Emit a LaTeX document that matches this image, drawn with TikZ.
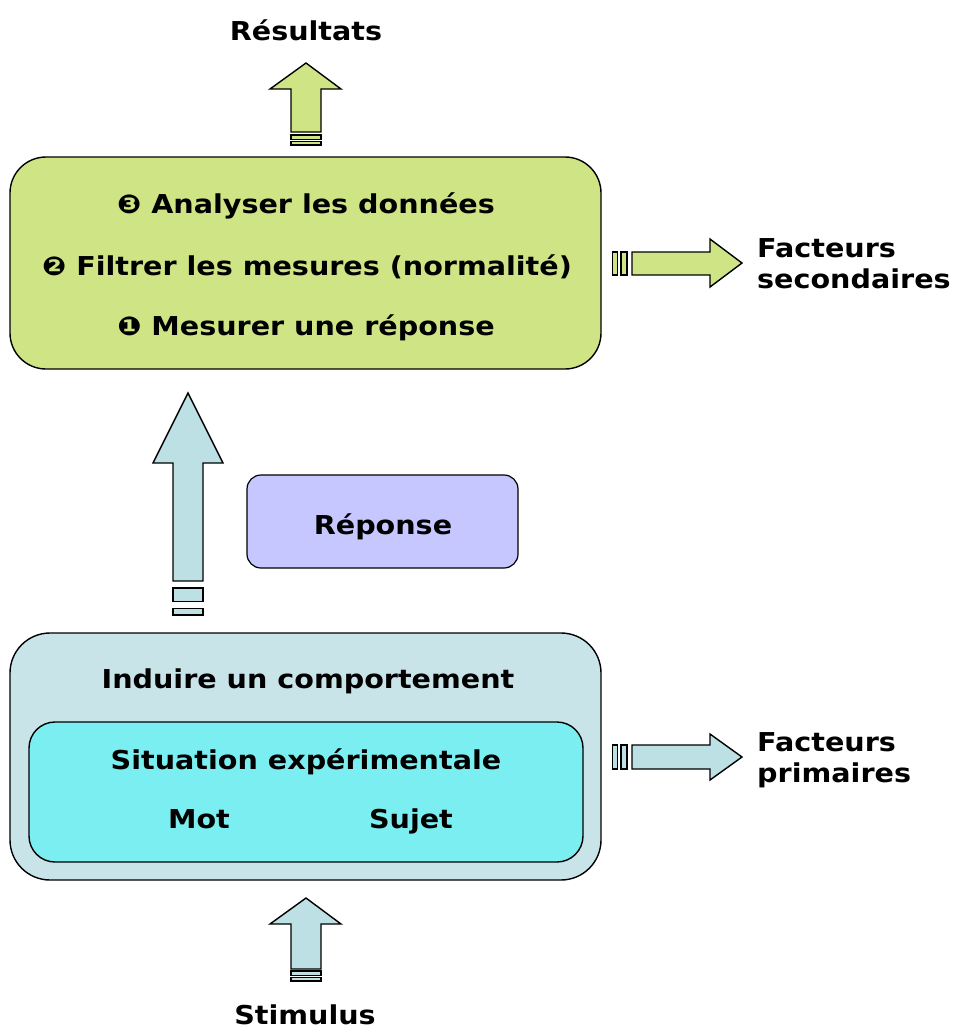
\documentclass[tikz,border=0pt]{standalone}
\usepackage{fontspec}
\setmainfont{DejaVu Sans}
\newfontfamily\labelfont{DejaVu Sans Bold}[FakeStretch=1.1]
\begin{document}
\begin{tikzpicture}[x=1pt,y=-1pt,
  txt/.style={font=\labelfont\fontsize{26}{31.5}\selectfont, inner sep=0pt, text=black, anchor=base},
  blk/.style={draw=black, line width=1.4pt, line join=miter},
  roundbox/.style={draw=black, line width=1.4pt}]
\definecolor{greenf}{RGB}{207,228,132}
\definecolor{bluef}{RGB}{188,224,227}
\definecolor{outerf}{RGB}{200,228,232}
\definecolor{innerf}{RGB}{122,238,240}
\definecolor{lavf}{RGB}{199,199,255}
\useasboundingbox (0,0) rectangle (954,1029);

% top green box
\draw[roundbox, fill=greenf, rounded corners=36pt] (10,157) rectangle (601,369);
\node[txt] (n3) at (306,213) {❸ Analyser les données};
\node[txt] (n2) at (307,275) {❷ Filtrer les mesures (normalité)};
\node[txt] (n1) at (306,335) {❶ Mesurer une réponse};

% Résultats arrow
\node[txt] (res) at (306,40) {Résultats};
\draw[blk, fill=greenf] (306,63) -- (341,89) -- (321,89) -- (321,132) -- (291,132) -- (291,89) -- (270,89) -- cycle;
\draw[blk, fill=greenf] (291,135) rectangle (321,139.5);
\draw[blk, fill=greenf] (291,141.5) rectangle (321,145);

% secondaires arrow
\draw[blk, fill=greenf] (612.5,252) rectangle (617.5,275);
\draw[blk, fill=greenf] (621,252) rectangle (627,275);
\draw[blk, fill=greenf] (632,252) -- (710,252) -- (710,239) -- (742,263) -- (710,287) -- (710,275) -- (632,275) -- cycle;
\node[txt, anchor=base west] (fs1) at (757,257) {Facteurs};
\node[txt, anchor=base west] (fs2) at (757,288.5) {secondaires};

% big blue up arrow
\draw[blk, fill=bluef] (188,393) -- (223,463) -- (203,463) -- (203,581) -- (173,581) -- (173,463) -- (153,463) -- cycle;
\draw[blk, fill=bluef] (173,588) rectangle (203,601.5);
\draw[blk, fill=bluef] (173,608.5) rectangle (203,615);

% Réponse box
\draw[roundbox, line width=1.2pt, fill=lavf, rounded corners=14pt] (247,475) rectangle (518,568);
\node[txt] (rep) at (383,534) {Réponse};

% bottom outer box
\draw[roundbox, fill=outerf, rounded corners=40pt] (10,633) rectangle (601,880);
\node[txt] (ind) at (308,688) {Induire un comportement};
\draw[roundbox, fill=innerf, rounded corners=26pt] (29,722) rectangle (583,862);
\node[txt] (sit) at (306,769) {Situation expérimentale};
\node[txt] (mot) at (199,828) {Mot};
\node[txt] (suj) at (411,828) {Sujet};

% primaires arrow
\draw[blk, fill=bluef] (612.5,745) rectangle (617.5,769);
\draw[blk, fill=bluef] (621,745) rectangle (627,769);
\draw[blk, fill=bluef] (632,745) -- (710,745) -- (710,734) -- (742,757) -- (710,780) -- (710,769) -- (632,769) -- cycle;
\node[txt, anchor=base west] (fp1) at (757,751) {Facteurs};
\node[txt, anchor=base west] (fp2) at (757,782.5) {primaires};

% Stimulus arrow
\draw[blk, fill=bluef] (306,898) -- (341,924) -- (321,924) -- (321,969) -- (291,969) -- (291,924) -- (270,924) -- cycle;
\draw[blk, fill=bluef] (291,971) rectangle (321,975.5);
\draw[blk, fill=bluef] (291,977.5) rectangle (321,981);
\node[txt] (stim) at (305,1024) {Stimulus};
\end{tikzpicture}
\end{document}
